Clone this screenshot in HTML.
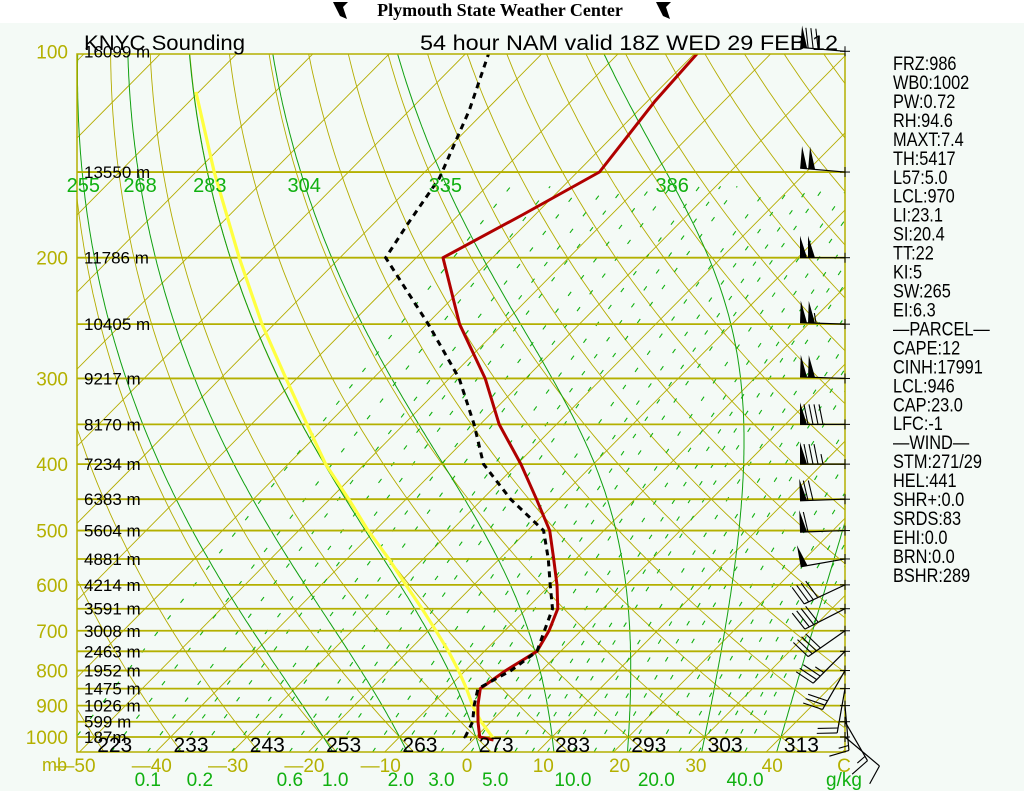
<!DOCTYPE html>
<html><head><meta charset="utf-8">
<style>
html,body{margin:0;padding:0;background:#fff;}
svg{display:block;font-family:"Liberation Sans",sans-serif;}
</style></head>
<body>
<svg id="chart" width="1024" height="791" viewBox="0 0 1024 791" xmlns="http://www.w3.org/2000/svg">
  <rect x="0" y="0" width="1024" height="23" fill="#ffffff"/>
  <rect x="0" y="23" width="1024" height="768" fill="#f4faf6"/>
  <g>
    <path d="M333 2 L348 2 L343 7 L347 19 L340 16 Z" fill="#000"/>
    <text x="500" y="16" text-anchor="middle" font-family="Liberation Serif, serif" font-weight="bold" font-size="18" fill="#000">Plymouth State Weather Center</text>
    <path d="M656 2 L671 2 L666 7 L670 19 L663 16 Z" fill="#000"/>
  </g>
  <defs><clipPath id="plotclip"><rect x="77" y="54" width="768" height="698"/></clipPath></defs>
  <g id="grid" clip-path="url(#plotclip)"></g>
  <g id="series" clip-path="url(#plotclip)"></g>
  <rect x="77" y="54" width="768" height="698" fill="none" stroke="#b4b000" stroke-width="1.5"/>
  <g id="labels"></g>
  <g id="barbs"></g>
  <text x="84" y="50" font-size="21" fill="#000" textLength="161" lengthAdjust="spacingAndGlyphs">KNYC Sounding</text>
  <text x="420" y="50" font-size="21" fill="#000" textLength="418" lengthAdjust="spacingAndGlyphs">54 hour NAM valid 18Z WED 29 FEB 12</text>
  <g id="stats"></g>
</svg>
<script>
// ---- data ----
const tempP = [100,118.5,150,173,200,250,300,350,400,450,500,550,600,650,700,750,800,850,900,950,1000,1010];
const tempC = [-59.7,-59.0,-57.1,-61.6,-66.5,-55.7,-45.3,-37.5,-29.5,-22.9,-17.1,-12.9,-9.1,-5.9,-4.2,-3.1,-4.7,-5.7,-3.8,-1.7,0.5,2.7];
const dewP = [100,121.8,153,180,200,250,300,350,400,450,500,550,600,650,700,750,800,850,900,950,1000,1008];
const dewC = [-87.2,-82.2,-77.3,-75.4,-74.0,-59.8,-48.7,-40.8,-34.4,-26.3,-17.9,-13.6,-10.0,-6.6,-4.8,-3.1,-4.0,-6.0,-4.3,-2.4,-1.4,-0.3];
const parcelP = [114.6,150,200,250,300,350,400,450,500,550,600,650,700,750,800,850,900,950,1005];
const parcelC = [-120.4,-107.6,-93.2,-81.6,-71.4,-62.7,-55.1,-47.5,-40.9,-34.5,-28.9,-23.7,-19.0,-14.7,-10.9,-7.5,-4.5,-1.3,2.5];
const isobarLevels = [100,150,200,250,300,350,400,450,500,550,600,650,700,750,800,850,900,950,1000];
const pressureLabels = [100,200,300,400,500,600,700,800,900,1000];
const heightLevels = [100,150,200,250,300,350,400,450,500,550,600,650,700,750,800,850,900,950,1000];
const heightLabels = ["16099 m","13550 m","11786 m","10405 m","9217 m","8170 m","7234 m","6383 m","5604 m","4881 m","4214 m","3591 m","3008 m","2463 m","1952 m","1475 m","1026 m","599 m","187m"];
const kelvinLabels = ["223","233","243","253","263","273","283","293","303","313"];
const celsiusTicks = [-50,-40,-30,-20,-10,0,10,20,30,40];
const moistStarts = [-20,-10,0,10,20,30,40];
const moistLabels = ["255","268","283","304","335","386",""];
const mixingValues = [0.03,0.06,0.1,0.15,0.2,0.3,0.4,0.6,0.8,1,1.5,2,2.5,3,4,5,6,7,8,10,12,14,16,20,24,28,32,36,40];
const mixingLabels = [0.1,0.2,0.6,1.0,2.0,3.0,5.0,10.0,20.0,40.0];
const windP = [100,150,200,250,300,350,400,450,500,550,600,650,700,750,800,850,900,950,1000];
const windDir = [275,275,270,272,272,270,270,268,268,260,245,243,235,225,210,190,175,150,130];
const windSpd = [80,100,100,105,100,90,85,70,60,50,40,40,40,35,30,20,15,15,10];
const statLines = ["FRZ:986","WB0:1002","PW:0.72","RH:94.6","MAXT:7.4","TH:5417","L57:5.0","LCL:970","LI:23.1","SI:20.4","TT:22","KI:5","SW:265","EI:6.3","\u2014PARCEL\u2014","CAPE:12","CINH:17991","LCL:946","CAP:23.0","LFC:-1","\u2014WIND\u2014","STM:271/29","HEL:441","SHR+:0.0","SRDS:83","EHI:0.0","BRN:0.0","BSHR:289"];

// ---- axes ----
const NS="http://www.w3.org/2000/svg";
const X0=461, SC=7.63, SK=0.99, YB=752;
function yP(p){return 737-297.8*Math.log(1000/p);}
function xTP(T,p){return X0+SC*T+SK*(YB-yP(p));}
function mk(tag,attrs,parent){const e=document.createElementNS(NS,tag);for(const k in attrs)e.setAttribute(k,attrs[k]);parent.appendChild(e);return e;}
const grid=document.getElementById('grid'), series=document.getElementById('series'), labels=document.getElementById('labels'), barbs=document.getElementById('barbs'), stats=document.getElementById('stats');
function pts(arr){return arr.map(a=>a[0].toFixed(1)+','+a[1].toFixed(1)).join(' ');}
const PBOT=1052, PTOP=99;

// isotherms
for(let T=-160;T<=60;T+=10){
  const l=mk('line',{x1:xTP(T,PBOT),y1:yP(PBOT),x2:xTP(T,PTOP),y2:yP(PTOP),stroke:'#b4ac00','stroke-width':0.9},grid);
  
  
}
// dry adiabats
for(let th=203.15;th<=483.15;th+=10){
  const a=[];
  for(let lp=Math.log(PBOT);lp>=Math.log(PTOP)-0.001;lp-=0.02){const p=Math.exp(lp);const Tk=th*Math.pow(p/1000,0.2857);a.push([xTP(Tk-273.15,p),yP(p)]);}
  const l=mk('polyline',{points:pts(a),fill:'none',stroke:'#b4ac00','stroke-width':0.9},grid);
  
  
}
// mixing ratio lines
function tdFromW(w,p){const e=w*p/(622+w);const L=Math.log(e/6.112);return 243.5*L/(17.67-L);}
mixingValues.forEach(w=>{
  const a=[];
  for(let lp=Math.log(PBOT);lp>=Math.log(150)-0.001;lp-=0.05){const p=Math.exp(lp);a.push([xTP(tdFromW(w,p),p),yP(p)]);}
  const l=mk('polyline',{points:pts(a),fill:'none',stroke:'#10b010','stroke-width':1.1,'stroke-dasharray':'5,16'},grid);
  
  
});
// moist adiabats
function rs(T,p){const es=6.112*Math.exp(17.67*T/(T+243.5));return 0.622*es/(p-es);}
function dTdlnp(T,p){const Tk=T+273.15,r=rs(T,p);return (287*Tk+2.5e6*r)/(1004+2.5e6*2.5e6*r*0.622/(287*Tk*Tk));}
moistStarts.forEach((T0,i)=>{
  const up=[],dn=[];let T=T0,lp=Math.log(1000);
  while(lp>Math.log(PTOP)){const p=Math.exp(lp);up.push([xTP(T,p),yP(p)]);const h=-0.01;T+=dTdlnp(T,p)*h;lp+=h;}
  T=T0;lp=Math.log(1000);
  while(lp<Math.log(PBOT)+0.01){const p=Math.exp(lp);dn.push([xTP(T,p),yP(p)]);const h=0.01;T+=dTdlnp(T,p)*h;lp+=h;}
  const a=dn.reverse().concat(up);
  const l=mk('polyline',{points:pts(a),fill:'none',stroke:'#10a010','stroke-width':1},grid);
  
  
  if(moistLabels[i]){
    let bx=null;for(const q of a){if(q[1]<=185){bx=q[0];break;}}
    if(bx!==null){
      const t=mk('text',{x:bx,y:192,'text-anchor':'middle','font-size':20,fill:'#10b010'},labels);
      t.textContent=moistLabels[i];
      
      
    }
  }
});
// isobars
isobarLevels.forEach(p=>{
  const l=mk('line',{x1:77,x2:845,y1:yP(p),y2:yP(p),stroke:'#b4b000','stroke-width':1.8},grid);
  
  
});

// series
function drawSeries(P,T,attrs,name){
  const a=P.map((p,i)=>[xTP(T[i],p),yP(p)]);
  const l=mk('polyline',Object.assign({points:pts(a),fill:'none'},attrs),series);
  
  
}
drawSeries(parcelP,parcelC,{stroke:'#ffff40','stroke-width':3.2,'stroke-linejoin':'round'},'parcel-line');
drawSeries(tempP,tempC,{stroke:'#b00000','stroke-width':3,'stroke-linejoin':'round'},'temperature-line');
drawSeries(dewP,dewC,{stroke:'#000','stroke-width':3,'stroke-dasharray':'6,5'},'dewpoint-line');

// labels
pressureLabels.forEach(p=>{
  const t=mk('text',{x:68,y:yP(p)+7,'text-anchor':'end','font-size':19,fill:'#b4b000'},labels);
  t.textContent=String(p);
  
  
});
heightLevels.forEach((p,i)=>{
  const t=mk('text',{x:84,y:yP(p)+6,'font-size':17,fill:'#000'},labels);
  t.textContent=heightLabels[i];
  
  
});
kelvinLabels.forEach((k,i)=>{
  const T=parseFloat(k)-273.15;
  const t=mk('text',{x:xTP(T,1000)+4,y:752,'font-size':21,fill:'#000'},labels);
  t.textContent=k;
  
  
});
{
  const t=mk('text',{x:42,y:771,'font-size':18,fill:'#b4b000'},labels);
  t.textContent='mb';
  
  
}
celsiusTicks.forEach(T=>{
  const x=X0+SC*T;
  const t=mk('text',{x:T<0?x-4:x+6,y:772,'text-anchor':'middle','font-size':19,fill:'#b4b000'},labels);
  t.textContent=(T<0?'\u2014':'')+Math.abs(T);
  
  
});
{
  const t=mk('text',{x:844,y:772,'text-anchor':'middle','font-size':19,fill:'#b4b000'},labels);
  t.textContent='C';
  
  
}
mixingLabels.forEach(w=>{
  const t=mk('text',{x:xTP(tdFromW(w,1050),1050),y:786,'text-anchor':'middle','font-size':19,fill:'#10b010'},labels);
  t.textContent=w.toFixed(1);
  
  
});
{
  const t=mk('text',{x:844,y:786,'text-anchor':'middle','font-size':19,fill:'#10b010'},labels);
  t.textContent='g/kg';
  
  
}

// wind barbs
windP.forEach((p,i)=>{
  const bx=845, by=yP(p);
  const d=windDir[i]*Math.PI/180;
  const ux=Math.sin(d), uy=-Math.cos(d);
  const px=-uy, py=ux;
  const L=45;
  const g=mk('g',{},barbs);
  
  
  mk('line',{x1:bx-5,x2:bx+5,y1:by,y2:by,stroke:'#000','stroke-width':1},g);
  mk('line',{x1:bx,x2:bx,y1:by-5,y2:by+5,stroke:'#000','stroke-width':1},g);
  mk('line',{x1:bx,y1:by,x2:bx+ux*L,y2:by+uy*L,stroke:'#000','stroke-width':1.2},g);
  let s=windSpd[i], pos=L;
  const step=5;
  while(s>=50){
    const ax=bx+ux*pos, ay=by+uy*pos, cx=bx+ux*(pos-7), cy=by+uy*(pos-7);
    mk('polygon',{points:`${ax},${ay} ${ax+px*22},${ay+py*22} ${cx},${cy}`,fill:'#000'},g);
    pos-=8;s-=50;
  }
  while(s>=10){
    const ax=bx+ux*pos, ay=by+uy*pos;
    mk('line',{x1:ax,y1:ay,x2:ax+px*20+ux*4,y2:ay+py*20+uy*4,stroke:'#000','stroke-width':1.1},g);
    pos-=step;s-=10;
  }
  if(s>=5){
    const ax=bx+ux*pos, ay=by+uy*pos;
    mk('line',{x1:ax,y1:ay,x2:ax+px*10+ux*2,y2:ay+py*10+uy*2,stroke:'#000','stroke-width':1.1},g);
  }
});

// stats
statLines.forEach((s,i)=>{
  const t=mk('text',{x:0,y:0,'font-size':19,fill:'#000',transform:`translate(893,${70+i*18.96}) scale(0.86,1)`},stats);
  t.textContent=s;
  
  
});
</script>
</body></html>
